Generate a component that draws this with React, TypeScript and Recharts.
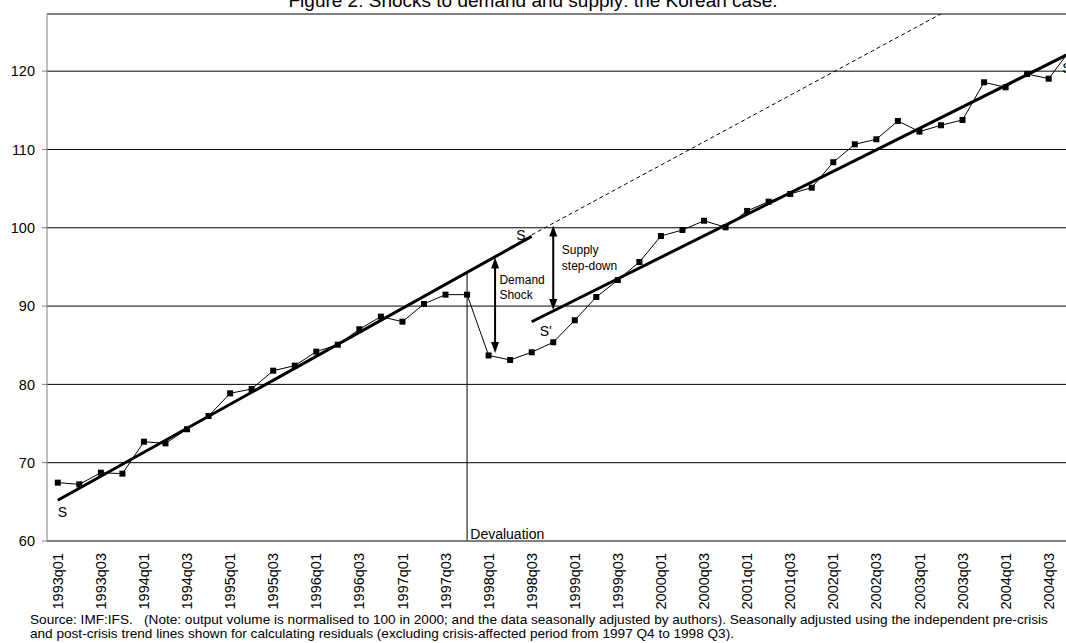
import { LineChart, Line, XAxis, YAxis, CartesianGrid, ReferenceLine, ReferenceDot } from 'recharts'

const quarters = [
  '1993q01', '1993q02', '1993q03', '1993q04', '1994q01', '1994q02', '1994q03', '1994q04',
  '1995q01', '1995q02', '1995q03', '1995q04', '1996q01', '1996q02', '1996q03', '1996q04',
  '1997q01', '1997q02', '1997q03', '1997q04', '1998q01', '1998q02', '1998q03', '1998q04',
  '1999q01', '1999q02', '1999q03', '1999q04', '2000q01', '2000q02', '2000q03', '2000q04',
  '2001q01', '2001q02', '2001q03', '2001q04', '2002q01', '2002q02', '2002q03', '2002q04',
  '2003q01', '2003q02', '2003q03', '2003q04', '2004q01', '2004q02', '2004q03', '2004q04',
]

// seasonally adjusted output volume (2000 = 100)
const output = [
  67.45, 67.24, 68.72, 68.6, 72.68, 72.47, 74.27, 75.96,
  78.86, 79.41, 81.75, 82.39, 84.18, 85.07, 87.04, 88.65,
  88.01, 90.27, 91.46, 91.46, 83.7, 83.12, 84.1, 85.38,
  88.19, 91.16, 93.33, 95.63, 98.95, 99.72, 100.9, 100.06,
  102.15, 103.34, 104.32, 105.12, 108.37, 110.66, 111.3, 113.64,
  112.28, 113.09, 113.77, 118.58, 117.94, 119.64, 119.04, 122.7,
]

// trend lines: [quarter index, value] end points
const preCrisisTrend = [[0, 65.2], [22, 98.9]]
const preCrisisExtension = [[22, 99.1], [42, 128.8]]
const postCrisisTrend = [[22, 88.0], [47, 122.3]]

const yTicks = [60, 70, 80, 90, 100, 110, 120]

// annotations, in data units (quarter index, value)
const devaluation = { q: 19, top: 94.3 }
const demandShock = { q: 20.3, from: 96.2, to: 84.0 }
const supplyStep = { q: 23, from: 100.3, to: 89.5 }
const notes = [
  { q: 0.0, v: 63.1, text: 'S', size: 14 },
  { q: 21.28, v: 98.45, text: 'S', size: 14 },
  { q: 22.37, v: 86.2, text: "S'", size: 14 },
  { q: 46.63, v: 119.8, text: 'S', size: 14 },
  { q: 20.5, v: 92.8, text: 'Demand', size: 12 },
  { q: 20.5, v: 90.9, text: 'Shock', size: 12 },
  { q: 23.4, v: 96.7, text: 'Supply', size: 12 },
  { q: 23.4, v: 94.65, text: 'step-down', size: 12 },
  { q: 19.15, v: 60.3, text: 'Devaluation', size: 14 },
]

function valueAt(points: number[][], i: number) {
  const hit = points.find((p) => p[0] === i)
  return hit ? hit[1] : null
}

const rows = quarters.map((q, i) => ({
  i,
  q,
  output: output[i],
  pre: valueAt(preCrisisTrend, i),
  ext: valueAt(preCrisisExtension, i),
  post: valueAt(postCrisisTrend, i),
}))

const boundaryTicks = quarters.map((_, i) => i - 0.5).concat([quarters.length - 0.5])
const labelTicks = quarters.map((_, i) => i).filter((i) => i % 2 === 0)

const FONT = '"Liberation Sans", Arial, Helvetica, sans-serif'

const QuarterTick = (props: any) => {
  const { x, y, payload } = props
  return (
    <text
      x={x}
      y={y}
      dy="0.35em"
      textAnchor="end"
      transform={`rotate(-90 ${x} ${y})`}
      fontSize={14.5}
      fontFamily={FONT}
      fill="#000"
    >
      {quarters[payload.value]}
    </text>
  )
}

const DoubleArrow = (p: any) => {
  const { x1, y1, x2, y2 } = p
  const top = Math.min(y1, y2)
  const bottom = Math.max(y1, y2)
  return (
    <g>
      <line x1={x1} y1={top + 8} x2={x2} y2={bottom - 8} stroke="#000" strokeWidth={2} />
      <polygon points={`${x1},${top} ${x1 - 4},${top + 11} ${x1 + 4},${top + 11}`} fill="#000" />
      <polygon points={`${x1},${bottom} ${x1 - 4},${bottom - 11} ${x1 + 4},${bottom - 11}`} fill="#000" />
    </g>
  )
}

const SquareDot = (p: any) => {
  if (p.cx == null || p.cy == null) return <g key={p.index} />
  return <rect key={p.index} x={p.cx - 3} y={p.cy - 3} width={6} height={6} fill="#000" />
}

export default function App() {
  return (
    <div
      style={{
        position: 'absolute',
        left: 0,
        top: 0,
        width: 1066,
        height: 643,
        overflow: 'hidden',
        background: '#fff',
        fontFamily: FONT,
      }}
    >
      <LineChart width={1081} height={643} data={rows} margin={{ top: 14, right: 0, bottom: 32, left: 2 }}>
        <CartesianGrid vertical={false} stroke="#000" strokeWidth={1} />
        <XAxis
          dataKey="i"
          type="number"
          domain={[-0.5, quarters.length - 0.5]}
          ticks={boundaryTicks}
          interval={0}
          tick={false}
          tickSize={5}
          tickLine={{ stroke: '#808080' }}
          axisLine={false}
          height={0}
          allowDataOverflow
        />
        <XAxis
          xAxisId="lab"
          dataKey="i"
          type="number"
          domain={[-0.5, quarters.length - 0.5]}
          ticks={labelTicks}
          interval={0}
          tick={QuarterTick}
          tickLine={false}
          tickSize={0}
          tickMargin={12}
          axisLine={{ stroke: '#808080' }}
          height={70}
        />
        <YAxis
          domain={[60, 127.3]}
          ticks={yTicks}
          interval={0}
          allowDataOverflow
          width={45}
          tickSize={5}
          tickMargin={7}
          axisLine={{ stroke: '#808080' }}
          tickLine={{ stroke: '#808080' }}
          tick={{ fill: '#000', fontSize: 14.5, fontFamily: FONT }}
        />
        <Line
          dataKey="ext"
          stroke="#000"
          strokeWidth={1}
          strokeDasharray="4 3"
          dot={false}
          connectNulls
          isAnimationActive={false}
        />
        <Line dataKey="pre" stroke="#000" strokeWidth={3} dot={false} connectNulls isAnimationActive={false} />
        <Line dataKey="post" stroke="#000" strokeWidth={3} dot={false} connectNulls isAnimationActive={false} />
        <Line
          dataKey="output"
          stroke="#000"
          strokeWidth={1}
          dot={SquareDot}
          activeDot={false}
          isAnimationActive={false}
        />
        <ReferenceLine
          segment={[
            { x: devaluation.q, y: devaluation.top },
            { x: devaluation.q, y: 60 },
          ]}
          stroke="#000"
          strokeWidth={1}
        />
        <ReferenceLine
          segment={[
            { x: demandShock.q, y: demandShock.from },
            { x: demandShock.q, y: demandShock.to },
          ]}
          shape={DoubleArrow}
        />
        <ReferenceLine
          segment={[
            { x: supplyStep.q, y: supplyStep.from },
            { x: supplyStep.q, y: supplyStep.to },
          ]}
          shape={DoubleArrow}
        />
        {notes.map((n, k) => (
          <ReferenceDot
            key={k}
            x={n.q}
            y={n.v}
            r={0}
            shape={(p: any) => (
              <text x={p.cx} y={p.cy} fontSize={n.size} fontFamily={FONT} fill="#000">
                {n.text}
              </text>
            )}
          />
        ))}
      </LineChart>
      <div
        style={{
          position: 'absolute',
          left: 0,
          top: -8.6,
          width: 1066,
          textAlign: 'center',
          fontSize: 19,
          lineHeight: '19px',
          color: '#000',
        }}
      >
        Figure 2: Shocks to demand and supply: the Korean case.
      </div>
      <div
        style={{
          position: 'absolute',
          left: 30,
          top: 613.3,
          width: 1036,
          fontSize: 13.6,
          lineHeight: '14px',
          color: '#000',
          whiteSpace: 'pre',
        }}
      >
        {'Source: IMF:IFS.   (Note: output volume is normalised to 100 in 2000; and the data seasonally adjusted by authors). Seasonally adjusted using the independent pre-crisis\nand post-crisis trend lines shown for calculating residuals (excluding crisis-affected period from 1997 Q4 to 1998 Q3).'}
      </div>
    </div>
  )
}
